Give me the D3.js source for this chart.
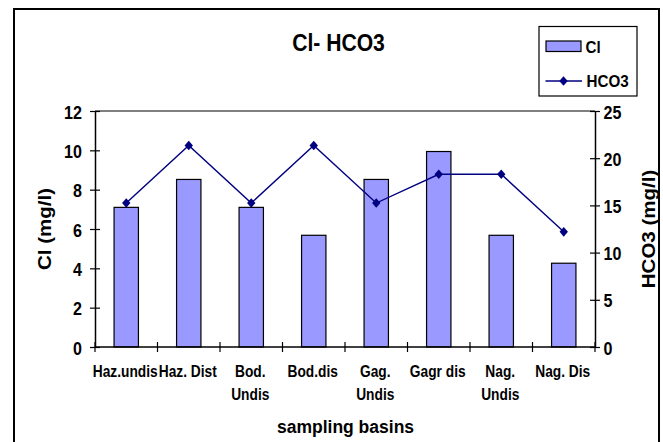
<!DOCTYPE html>
<html>
<head>
<meta charset="utf-8">
<script src="https://cdn.jsdelivr.net/npm/d3@7"></script>
<style>
  html, body { margin: 0; padding: 0; background: #fff; }
  svg { display: block; }
  text { font-family: "Liberation Sans", Arial, sans-serif; font-weight: bold; fill: #000; }
</style>
</head>
<body>
<svg id="chart" width="663" height="442"></svg>
<script>
// Sampling basins (a "\n" marks a wrapped label)
const categories = ["Haz.undis", "Haz. Dist", "Bod.\nUndis", "Bod.dis", "Gag.\nUndis", "Gagr dis", "Nag.\nUndis", "Nag. Dis"];
// Chloride, mg/l (left axis, bars)
const clValues = [7.1, 8.52, 7.1, 5.68, 8.52, 9.94, 5.68, 4.26];
// Bicarbonate, mg/l (right axis, line)
const hco3Values = [15.25, 21.35, 15.25, 21.35, 15.25, 18.3, 18.3, 12.2];
// Axis ticks
const clTicks = [0, 2, 4, 6, 8, 10, 12];
const hco3Ticks = [0, 5, 10, 15, 20, 25];

const svg = d3.select("#chart");
const plot = { left: 95, right: 595, top: 111, bottom: 347 };

const x = d3.scaleBand().domain(categories).range([plot.left, plot.right]).padding(0);
const yL = d3.scaleLinear().domain([0, 12]).range([plot.bottom, plot.top]);
const yR = d3.scaleLinear().domain([0, 25]).range([plot.bottom, plot.top]);

// Text helper: horizontally condensed bold type
function label(g, str, x0, y0, size, anchor, sx, rot) {
  return g.append("text")
    .attr("transform", `translate(${x0},${y0}) scale(${sx},1)` + (rot ? ` rotate(${rot})` : ""))
    .attr("text-anchor", anchor)
    .style("font-size", size + "px")
    .text(str);
}

// Outer chart frame
svg.append("rect").attr("x", 14).attr("y", 9).attr("width", 645).attr("height", 460)
  .attr("fill", "none").attr("stroke", "#000").attr("stroke-width", 2);

// Plot area top edge
svg.append("line").attr("x1", plot.left).attr("x2", plot.right)
  .attr("y1", plot.top).attr("y2", plot.top).attr("stroke", "#000").attr("stroke-width", 1.2);

// Bars
const barW = x.bandwidth() * 0.39;
svg.append("g").selectAll("rect").data(clValues).join("rect")
  .attr("x", (d, i) => x(categories[i]) + x.bandwidth() / 2 - barW / 2)
  .attr("y", d => yL(d))
  .attr("width", barW)
  .attr("height", d => yL(0) - yL(d))
  .attr("fill", "#9999ff")
  .attr("stroke", "#000")
  .attr("stroke-width", 1.2);

// Left axis
svg.append("g").attr("transform", `translate(${plot.left},0)`)
  .call(d3.axisLeft(yL).tickValues(clTicks).tickSize(5).tickSizeOuter(0))
  .call(g => g.select(".domain").attr("stroke-width", 1.5))
  .call(g => g.selectAll(".tick line").attr("x1", -5).attr("x2", 5).attr("stroke-width", 1.2))
  .call(g => g.selectAll(".tick text").attr("x", null).attr("dy", null).attr("y", 7)
    .attr("transform", "translate(-13,0) scale(0.87,1)")
    .attr("text-anchor", "end").attr("font-family", null).attr("font-size", null)
    .style("font-size", "18.5px"));

// Right axis
svg.append("g").attr("transform", `translate(${plot.right},0)`)
  .call(d3.axisRight(yR).tickValues(hco3Ticks).tickSize(5).tickSizeOuter(0))
  .call(g => g.select(".domain").attr("stroke-width", 1.5))
  .call(g => g.selectAll(".tick line").attr("x1", -5).attr("x2", 5).attr("stroke-width", 1.2))
  .call(g => g.selectAll(".tick text").attr("x", null).attr("dy", null).attr("y", 7)
    .attr("transform", "translate(8.5,0) scale(0.87,1)")
    .attr("text-anchor", "start").attr("font-family", null).attr("font-size", null)
    .style("font-size", "18.5px"));

// Category axis with ticks on the band boundaries
const bounds = categories.map(c => x(c)).concat([plot.right]);
const xg = svg.append("g");
xg.append("line").attr("x1", plot.left).attr("x2", plot.right)
  .attr("y1", plot.bottom).attr("y2", plot.bottom).attr("stroke", "#000").attr("stroke-width", 1.5);
xg.selectAll(".btick").data(bounds).join("line").attr("class", "btick")
  .attr("x1", d => d).attr("x2", d => d)
  .attr("y1", plot.bottom - 5).attr("y2", plot.bottom + 5)
  .attr("stroke", "#000").attr("stroke-width", 1.2);
categories.forEach(c => {
  c.split("\n").forEach((line, k) => {
    label(xg, line, x(c) + x.bandwidth() / 2 - 1, 376.5 + k * 23.3, 16, "middle", 0.86);
  });
});

// HCO3 line with diamond markers
const diamond = {
  draw(ctx, size) {
    const w = 4.2, h = 4.8;
    ctx.moveTo(0, -h); ctx.lineTo(w, 0); ctx.lineTo(0, h); ctx.lineTo(-w, 0); ctx.closePath();
  }
};
const cx = i => x(categories[i]) + x.bandwidth() / 2;
svg.append("path")
  .datum(hco3Values)
  .attr("d", d3.line().x((d, i) => cx(i)).y(d => yR(d)))
  .attr("fill", "none").attr("stroke", "#000080").attr("stroke-width", 1.4);
svg.append("g").selectAll("path").data(hco3Values).join("path")
  .attr("transform", (d, i) => `translate(${cx(i)},${yR(d)})`)
  .attr("d", d3.symbol().type(diamond))
  .attr("fill", "#000080");

// Title
label(svg, "Cl- HCO3", 338.5, 50.7, 24, "middle", 0.88);

// Axis titles
label(svg, "Cl (mg/l)", 50.5, 229, 20.5, "middle", 0.87, -90);
label(svg, "HCO3 (mg/l)", 655, 229, 20.5, "middle", 0.87, -90);
label(svg, "sampling basins", 345.5, 433.3, 17.5, "middle", 1);

// Legend
const lg = svg.append("g");
lg.append("rect").attr("x", 539).attr("y", 26.5).attr("width", 98).attr("height", 69.5)
  .attr("fill", "#fff").attr("stroke", "#000").attr("stroke-width", 1.2);
lg.append("rect").attr("x", 546).attr("y", 41).attr("width", 35).attr("height", 10.5)
  .attr("fill", "#9999ff").attr("stroke", "#000").attr("stroke-width", 1.2);
label(lg, "Cl", 585.5, 52.7, 16, "start", 0.95);
lg.append("line").attr("x1", 545.5).attr("x2", 582).attr("y1", 81).attr("y2", 81)
  .attr("stroke", "#000080").attr("stroke-width", 1.4);
lg.append("path").attr("transform", "translate(563.5,81)")
  .attr("d", d3.symbol().type(diamond)).attr("fill", "#000080");
label(lg, "HCO3", 586.5, 86.7, 16, "start", 0.95);
</script>
</body>
</html>
